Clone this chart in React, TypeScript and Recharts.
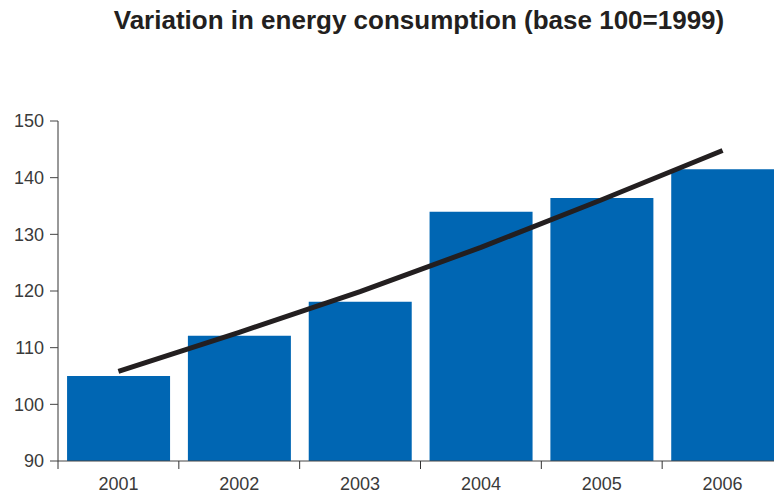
import React from "react";
import { ComposedChart, Bar, Line, XAxis, YAxis } from "recharts";

const years = ["2001", "2002", "2003", "2004", "2005", "2006"];
const consumption = [105.0, 112.1, 118.1, 134.0, 136.4, 141.5];
const trend = [105.8, 112.7, 119.9, 127.7, 136.1, 144.8];
const yTicks = [90, 100, 110, 120, 130, 140, 150];

const data = years.map((y, i) => ({ year: y, value: consumption[i], trend: trend[i] }));

const FONT = '"Liberation Sans", Arial, Helvetica, sans-serif';

const XTick = (props: any) => {
  const { x, y, payload } = props;
  const off = payload && typeof payload.offset === "number" ? payload.offset : 60.45;
  return (
    <g>
      <line x1={x - off} x2={x - off} y1={y} y2={y + 8} stroke="#333" strokeWidth={1} />
      <text x={x} y={y + 29} textAnchor="middle" fill="#3a3a3a" fontSize={18} fontFamily={FONT}>
        {payload.value}
      </text>
    </g>
  );
};

export default function App() {
  return (
    <div
      style={{
        position: "fixed",
        left: 0,
        top: 0,
        width: 774,
        height: 493,
        overflow: "hidden",
        background: "#fff",
      }}
    >
      <div
        style={{
          position: "absolute",
          left: 19,
          top: 7,
          width: 800,
          textAlign: "center",
          fontFamily: FONT,
          fontWeight: "bold",
          fontSize: 26,
          lineHeight: "26px",
          color: "#231f20",
          whiteSpace: "nowrap",
        }}
      >
        Variation in energy consumption (base 100=1999)
      </div>
      <ComposedChart
        width={800}
        height={493}
        data={data}
        margin={{ top: 121, right: 17, bottom: 0, left: 0 }}
        barCategoryGap="7.5%"
      >
        <XAxis
          dataKey="year"
          type="category"
          height={32}
          tickLine={false}
          tickSize={0}
          tickMargin={0}
          axisLine={{ stroke: "#444", strokeWidth: 1 }}
          tick={<XTick />}
          interval={0}
        />
        <YAxis
          type="number"
          domain={[90, 150]}
          ticks={yTicks}
          width={58}
          tickSize={8}
          tickMargin={6}
          axisLine={{ stroke: "#333", strokeWidth: 1 }}
          tickLine={{ stroke: "#444" }}
          tick={{ fill: "#3a3a3a", fontSize: 18, fontFamily: FONT }}
          allowDataOverflow
        />
        <Bar dataKey="value" fill="#0066b3" isAnimationActive={false} />
        <Line
          dataKey="trend"
          type="linear"
          stroke="#231f20"
          strokeWidth={5}
          dot={false}
          activeDot={false}
          isAnimationActive={false}
        />
      </ComposedChart>
    </div>
  );
}
